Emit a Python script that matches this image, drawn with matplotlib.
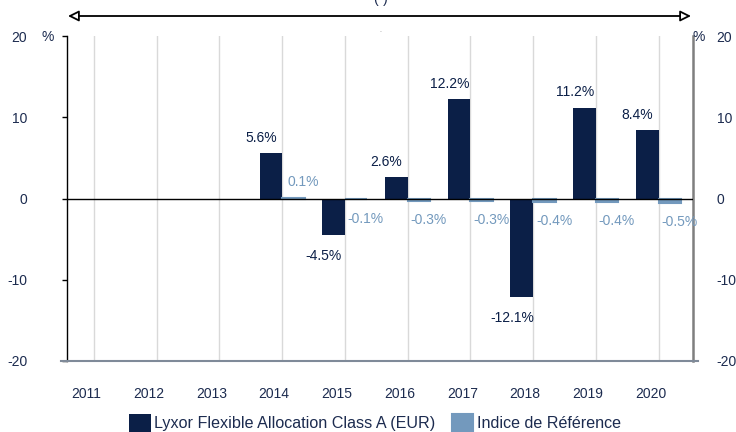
import matplotlib
matplotlib.use("Agg")
import matplotlib.pyplot as plt
from matplotlib.transforms import ScaledTranslation
import numpy as np

plt.rcParams['font.family'] = ['Liberation Sans', 'DejaVu Sans']

years = ['2011', '2012', '2013', '2014', '2015', '2016', '2017', '2018', '2019', '2020']
fund = [None, None, None, 5.6, -4.5, 2.6, 12.2, -12.1, 11.2, 8.4]
index = [None, None, None, 0.1, -0.1, -0.3, -0.3, -0.4, -0.4, -0.5]
fund_name = 'Lyxor Flexible Allocation Class A (EUR)'
index_name = 'Indice de Référence'
yticks = [-20, -10, 0, 10, 20]

dark = '#0b1f47'
light = '#7399bd'
txt = '#1c2b4f'

fig = plt.figure(figsize=(7.36, 4.32), dpi=100)
ax = fig.add_axes([67/736, 1-361/432, (693-67)/736, (361-36)/432])

x = np.arange(len(years))
w = 0.36
fx = [xi - w/2 for xi, v in zip(x, fund) if v is not None]
fv = [v for v in fund if v is not None]
ix = [xi + w/2 for xi, v in zip(x, index) if v is not None]
iv = [v for v in index if v is not None]

ax.bar(fx, fv, width=w, color=dark, zorder=3, label=fund_name)
ax.bar(ix, iv, width=w, color=light, edgecolor=light, linewidth=1.5, zorder=3,
       label=index_name)

ax.set_xlim(-0.43, 9.55)
ax.set_ylim(-20, 20)

for xi in x:
    ax.axvline(xi, color='#d9d9d9', lw=1, zorder=1)
ax.axhline(0, color='black', lw=1, zorder=4)
ax.plot([-0.01, 1.008], [0, 0], transform=ax.transAxes, color='#7f8a99', lw=1.5,
        clip_on=False, zorder=4)

for s in ['top', 'bottom']:
    ax.spines[s].set_visible(False)
ax.spines['left'].set_color('black')
ax.spines['left'].set_linewidth(1)
ax.spines['right'].set_color('#7f7f7f')
ax.spines['right'].set_linewidth(1.8)

ax.set_yticks(yticks)
ax.set_yticklabels([str(t) for t in yticks], fontsize=10, color=txt)
ax.tick_params(axis='y', length=3.6, width=1, pad=25, direction='out')

ax2 = ax.twinx()
ax2.set_ylim(-20, 20)
ax2.set_yticks(yticks)
ax2.set_yticklabels([str(t) for t in yticks], fontsize=10, color=txt)
ax2.tick_params(axis='y', length=0, pad=17)
for s in ['top', 'bottom', 'left', 'right']:
    ax2.spines[s].set_visible(False)
ax2.set_zorder(-1)

ax.set_xticks(x)
ax.set_xticklabels(years, fontsize=10, color=txt)
ax.tick_params(axis='x', length=0, pad=19)
off = ScaledTranslation(-8/100, 0, fig.dpi_scale_trans)
for lab in ax.get_xticklabels():
    lab.set_transform(lab.get_transform() + off)

fig.text(48/736, 1-37/432, '%', fontsize=10, color=txt, ha='center', va='center')
fig.text(699/736, 1-37/432, '%', fontsize=10, color=txt, ha='center', va='center')

for xi, v in zip(fx, fv):
    ax.annotate(f'{v:.1f}%', (xi, v), xytext=(-7, 11 if v >= 0 else -15),
                textcoords='offset points', ha='center', va='center',
                fontsize=10, color=dark, zorder=5)
for xi, v in zip(ix, iv):
    ax.annotate(f'{v:.1f}%', (xi, v), xytext=(7, 11 if v >= 0 else -14),
                textcoords='offset points', ha='center', va='center',
                fontsize=10, color=light, zorder=5)

ax.annotate('', xy=(691/736, 1-16/432), xytext=(68/736, 1-16/432),
            xycoords='figure fraction', textcoords='figure fraction',
            arrowprops=dict(arrowstyle='<|-|>', fc='white', ec='black', lw=1.3,
                            mutation_scale=16, shrinkA=0, shrinkB=0))
fig.text(380/736, 1+1/432, '(*)', fontsize=10, color=txt, ha='center', va='center')
fig.text(380/736, 1-31/432, '.', fontsize=5, color='#888888', ha='center', va='center')

fig.legend(loc='center', bbox_to_anchor=(375/736, 1-423/432), ncol=2, frameon=False,
           fontsize=11.6, handlelength=1.35, handleheight=1.35, handletextpad=0.2,
           columnspacing=1.0, labelcolor=txt)

fig.savefig('out.png', dpi=100)
